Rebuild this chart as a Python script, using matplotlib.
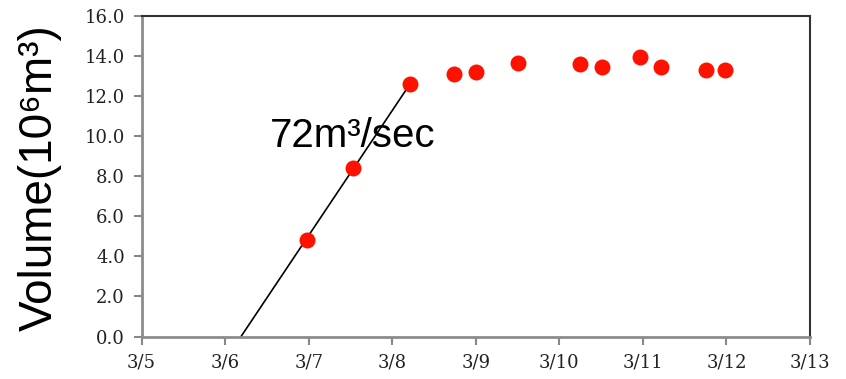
import matplotlib
matplotlib.use("Agg")
import matplotlib.pyplot as plt

# Data (day of March)
days = [6.98, 7.53, 8.21, 8.74, 9.00, 9.50, 10.25, 10.51, 10.97, 11.22, 11.75, 11.98]
volume = [4.82, 8.43, 12.59, 13.12, 13.20, 13.67, 13.62, 13.47, 13.95, 13.47, 13.30, 13.30]
fit_x = [6.19, 8.21]
fit_y = [0.0, 12.59]
xtick_vals = [5, 6, 7, 8, 9, 10, 11, 12, 13]
xtick_labels = ["3/5", "3/6", "3/7", "3/8", "3/9", "3/10", "3/11", "3/12", "3/13"]
ytick_vals = [0, 2, 4, 6, 8, 10, 12, 14, 16]
ytick_labels = ["0.0", "2.0", "4.0", "6.0", "8.0", "10.0", "12.0", "14.0", "16.0"]

fig = plt.figure(figsize=(8.46, 3.79), dpi=100)
ax = fig.add_axes([0.1674, 0.1121, 0.9574 - 0.1674, 0.9578 - 0.1121])

ax.plot(fit_x, fit_y, color='black', lw=1.2, zorder=2)
ax.plot(days, volume, 'o', color='#ff1100', markersize=11.5, markeredgewidth=0, zorder=3)

ax.set_xlim(5, 13)
ax.set_ylim(0, 16)
ax.set_xticks(xtick_vals)
ax.set_xticklabels(xtick_labels)
ax.set_yticks(ytick_vals)
ax.set_yticklabels(ytick_labels)

for lab in ax.get_xticklabels() + ax.get_yticklabels():
    lab.set_family('DejaVu Serif')
    lab.set_fontsize(13)
    lab.set_color('#222222')

ax.tick_params(axis='both', direction='out', length=6, width=1.5, color='#888888', pad=6)
ax.spines['left'].set_color('#8c8c8c')
ax.spines['left'].set_linewidth(2.0)
ax.spines['bottom'].set_color('#8c8c8c')
ax.spines['bottom'].set_linewidth(2.0)
ax.spines['top'].set_color('#333333')
ax.spines['top'].set_linewidth(1.5)
ax.spines['right'].set_color('#333333')
ax.spines['right'].set_linewidth(1.5)

ax.text(6.537, 9.46, '72m\u00b3/sec', fontsize=29, family=['Liberation Sans', 'DejaVu Sans'],
        ha='left', va='baseline', color='black')

fig.text(40 / 846, 1 - 178 / 379, 'Volume(10\u2076m\u00b3)', rotation=90, fontsize=33,
         family=['Liberation Sans', 'DejaVu Sans'], ha='center', va='center', color='black')

fig.savefig('out.png', dpi=100)
